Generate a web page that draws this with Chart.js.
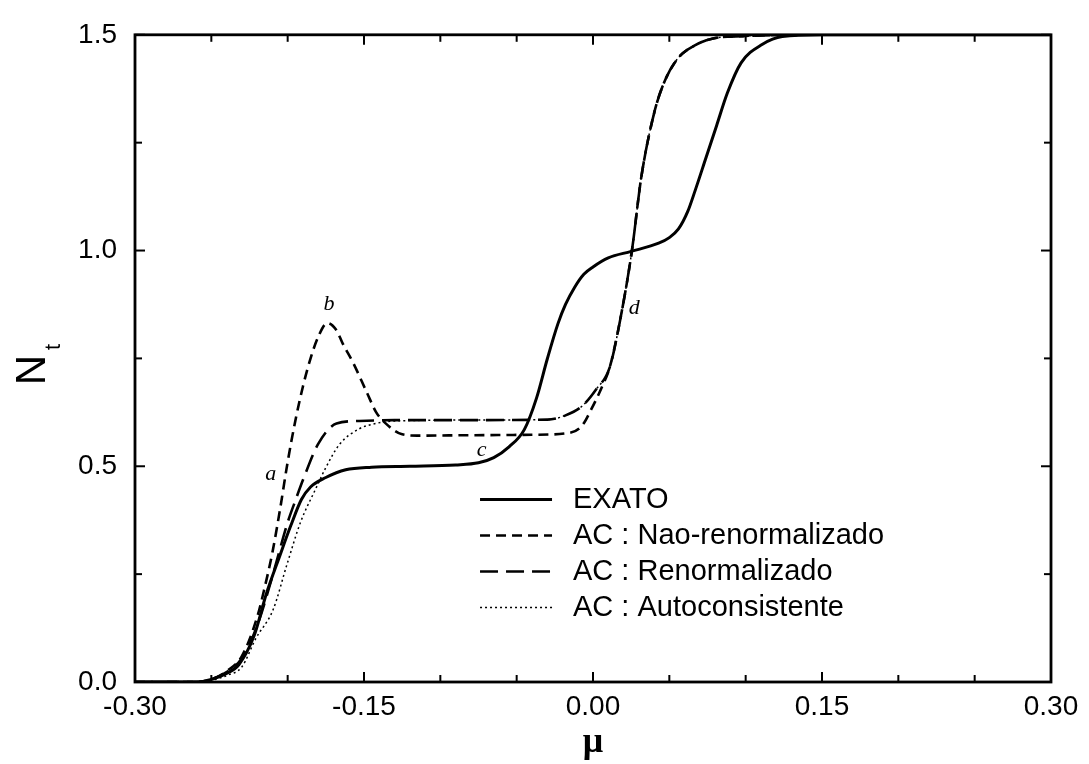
<!DOCTYPE html>
<html>
<head>
<meta charset="utf-8">
<script src="https://cdn.jsdelivr.net/npm/chart.js@4.4.1/dist/chart.umd.min.js"></script>
<style>
html, body { margin: 0; padding: 0; background: #fff; }
#wrap { width: 1089px; height: 764px; position: relative; }
</style>
</head>
<body>
<div id="wrap"><canvas id="myChart"></canvas></div>
<script>
// curve data (mu, N_t)
var muExato = [-0.30, -0.26, -0.25, -0.24, -0.232, -0.222, -0.214, -0.205, -0.198, -0.191, -0.185, -0.175, -0.162, -0.145, -0.12, -0.09, -0.075, -0.065, -0.055, -0.045, -0.037, -0.03, -0.023, -0.018, -0.012, -0.006, 0.0, 0.01, 0.025, 0.043, 0.05, 0.056, 0.062, 0.067, 0.074, 0.081, 0.088, 0.097, 0.111, 0.124, 0.15, 0.30];
var nExato = [0, 0, 0.006, 0.02, 0.04, 0.107, 0.204, 0.294, 0.362, 0.423, 0.452, 0.474, 0.492, 0.498, 0.50, 0.503, 0.508, 0.52, 0.545, 0.585, 0.658, 0.748, 0.83, 0.875, 0.915, 0.945, 0.962, 0.983, 0.998, 1.017, 1.03, 1.05, 1.09, 1.14, 1.215, 1.29, 1.365, 1.435, 1.478, 1.496, 1.5, 1.5];

var muNaoRen = [-0.30, -0.26, -0.25, -0.24, -0.23, -0.22, -0.215, -0.21, -0.205, -0.2, -0.195, -0.19, -0.185, -0.18, -0.174, -0.168, -0.164, -0.157, -0.148, -0.142, -0.136, -0.125, -0.115, -0.08, -0.04, -0.016, -0.007, -0.001, 0.006, 0.011, 0.018, 0.0255, 0.0315, 0.04, 0.047, 0.056, 0.067, 0.078, 0.098, 0.15, 0.30];
var nNaoRen = [0, 0, 0.006, 0.025, 0.06, 0.15, 0.22, 0.30, 0.40, 0.51, 0.605, 0.685, 0.75, 0.80, 0.832, 0.815, 0.785, 0.739, 0.67, 0.625, 0.60, 0.574, 0.571, 0.572, 0.573, 0.577, 0.595, 0.633, 0.685, 0.73, 0.843, 1.0, 1.167, 1.318, 1.393, 1.447, 1.476, 1.491, 1.497, 1.5, 1.5];

var muRen = [-0.30, -0.26, -0.25, -0.24, -0.23, -0.22, -0.21, -0.2, -0.195, -0.19, -0.18, -0.168, -0.153, -0.13, -0.08, -0.03, -0.018, -0.007, 0.002, 0.011, 0.018, 0.0255, 0.0315, 0.04, 0.047, 0.056, 0.067, 0.078, 0.098, 0.15, 0.30];
var nRen = [0, 0, 0.006, 0.023, 0.055, 0.13, 0.245, 0.37, 0.42, 0.468, 0.552, 0.599, 0.605, 0.607, 0.607, 0.608, 0.618, 0.640, 0.678, 0.73, 0.843, 1.0, 1.167, 1.318, 1.393, 1.447, 1.476, 1.491, 1.497, 1.5, 1.5];

var muAuto = [-0.30, -0.26, -0.25, -0.24, -0.23, -0.221, -0.2095, -0.2005, -0.1915, -0.182, -0.175, -0.166, -0.153, -0.145, -0.13, -0.08, -0.03, -0.018, -0.007, 0.002, 0.011, 0.018, 0.0255, 0.0315, 0.04, 0.047, 0.056, 0.067, 0.078, 0.098, 0.15, 0.30];
var nAuto = [0, 0, 0.004, 0.015, 0.035, 0.10, 0.168, 0.272, 0.371, 0.445, 0.497, 0.551, 0.587, 0.597, 0.605, 0.607, 0.608, 0.618, 0.640, 0.678, 0.73, 0.843, 1.0, 1.167, 1.318, 1.393, 1.447, 1.476, 1.491, 1.497, 1.5, 1.5];

var seriesNames = ['EXATO', 'AC : Nao-renormalizado', 'AC : Renormalizado', 'AC : Autoconsistente'];

// curve markers a, b, c, d
var markText = ['a', 'b', 'c', 'd'];
var markMu = [-0.211, -0.173, -0.073, 0.027];
var markN = [0.481, 0.876, 0.537, 0.866];

function pts(xs, ys) {
    return xs.map(function (x, i) { return { x: x, y: ys[i] }; });
}

var sansFont = '"Liberation Sans", Arial, Helvetica, sans-serif';

function line(ctx, x1, y1, x2, y2) {
    ctx.beginPath();
    ctx.moveTo(x1, y1);
    ctx.lineTo(x2, y2);
    ctx.stroke();
}

// frame, inward ticks, y title, curve letters and legend
const extras = {
    id: 'extras',
    afterDatasetsDraw(chart) {
        const ctx = chart.ctx;
        const a = chart.chartArea;
        const xs = chart.scales.x, ys = chart.scales.y;
        ctx.save();
        ctx.strokeStyle = '#000';
        ctx.fillStyle = '#000';
        ctx.setLineDash([]);
        ctx.lineWidth = 2.8;
        ctx.strokeRect(a.left, a.top, a.right - a.left, a.bottom - a.top);

        ctx.lineWidth = 2;
        xs.ticks.forEach(function (t) {
            const px = xs.getPixelForValue(t.value);
            const len = t.label ? 10 : 7;
            line(ctx, px, a.bottom, px, a.bottom - len);
            line(ctx, px, a.top, px, a.top + len);
        });
        ys.ticks.forEach(function (t) {
            const py = ys.getPixelForValue(t.value);
            const len = t.label ? 10 : 7;
            line(ctx, a.left, py, a.left + len, py);
            line(ctx, a.right, py, a.right - len, py);
        });

        // y title N_t
        ctx.save();
        ctx.translate(33, 370);
        ctx.rotate(-Math.PI / 2);
        ctx.textAlign = 'center';
        ctx.textBaseline = 'middle';
        ctx.font = '42px ' + sansFont;
        ctx.fillText('N', 0, 0);
        ctx.font = '22px ' + sansFont;
        ctx.fillText('t', 23, 21);
        ctx.restore();

        // letters on curves
        ctx.font = 'italic 22px "Liberation Serif", "Times New Roman", serif';
        ctx.textAlign = 'center';
        ctx.textBaseline = 'middle';
        markText.forEach(function (s, i) {
            ctx.fillText(s, xs.getPixelForValue(markMu[i]), ys.getPixelForValue(markN[i]));
        });

        // legend
        const x0 = xs.getPixelForValue(-0.074);
        const y0 = ys.getPixelForValue(0.423);
        ctx.font = '29px ' + sansFont;
        ctx.textAlign = 'left';
        chart.data.datasets.forEach(function (ds, i) {
            const y = y0 + i * 36;
            ctx.lineWidth = ds.borderWidth;
            ctx.setLineDash(ds.borderDash || []);
            line(ctx, x0, y, x0 + 72, y);
            ctx.setLineDash([]);
            ctx.fillText(ds.label, x0 + 93, y + 1);
        });
        ctx.restore();
    }
};

const ctx = document.getElementById('myChart');
new Chart(ctx, {
    type: 'line',
    data: {
        datasets: [{
            label: seriesNames[0],
            data: pts(muExato, nExato),
            borderColor: '#000',
            borderWidth: 3
        }, {
            label: seriesNames[1],
            data: pts(muNaoRen, nNaoRen),
            borderColor: '#000',
            borderWidth: 2.6,
            borderDash: [10, 6]
        }, {
            label: seriesNames[2],
            data: pts(muRen, nRen),
            borderColor: '#000',
            borderWidth: 2.6,
            borderDash: [18, 8]
        }, {
            label: seriesNames[3],
            data: pts(muAuto, nAuto),
            borderColor: '#000',
            borderWidth: 1.5,
            borderDash: [2, 3]
        }]
    },
    options: {
        responsive: true,
        maintainAspectRatio: false,
        animation: false,
        layout: { padding: { top: 20, right: 38, left: 0, bottom: 0 } },
        elements: {
            point: { radius: 0 },
            line: { cubicInterpolationMode: 'monotone', fill: false }
        },
        plugins: {
            legend: { display: false },
            tooltip: { enabled: false }
        },
        scales: {
            x: {
                type: 'linear',
                min: -0.3,
                max: 0.3,
                grid: { display: false, drawTicks: false },
                border: { display: false },
                ticks: {
                    stepSize: 0.05,
                    autoSkip: false,
                    maxRotation: 0,
                    padding: 8,
                    color: '#000',
                    font: { family: sansFont, size: 28 },
                    callback: function (v) {
                        const k = Math.round(v / 0.15);
                        return Math.abs(v - k * 0.15) < 1e-6 ? (k * 0.15).toFixed(2) : '';
                    }
                },
                title: {
                    display: true,
                    text: 'μ',
                    color: '#000',
                    font: { family: '"Liberation Serif", serif', size: 36, weight: 'bold' },
                    padding: { top: 0, bottom: 0 }
                },
                afterFit: function (s) { s.height = 82; }
            },
            y: {
                min: 0,
                max: 1.5,
                grid: { display: false, drawTicks: false },
                border: { display: false },
                ticks: {
                    stepSize: 0.25,
                    autoSkip: false,
                    padding: 18,
                    color: '#000',
                    font: { family: sansFont, size: 28 },
                    callback: function (v) {
                        const k = Math.round(v / 0.5);
                        return Math.abs(v - k * 0.5) < 1e-6 ? (k * 0.5).toFixed(1) : '';
                    }
                },
                afterFit: function (s) { s.width = 135; }
            }
        }
    },
    plugins: [extras]
});
</script>
</body>
</html>
